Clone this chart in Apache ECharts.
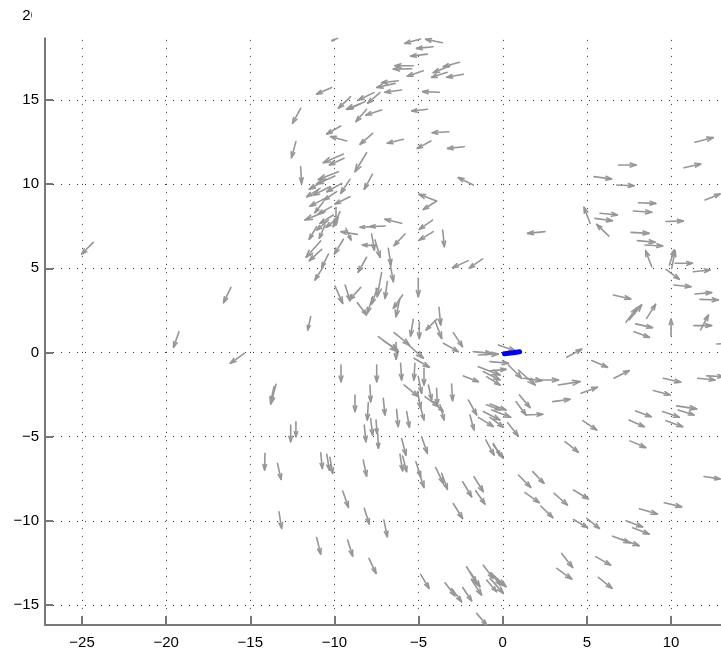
<!DOCTYPE html>
<html>
<head>
<meta charset="utf-8">
<script src="https://cdn.jsdelivr.net/npm/echarts@6/dist/echarts.min.js"></script>
<style>html,body{margin:0;padding:0;background:#fff;}#chart{width:721px;height:652px;}</style>
</head>
<body>
<div id="chart"></div>
<script>
// Tick values
const xTicks = [-25, -20, -15, -10, -5, 0, 5, 10, 15];
const yTicks = [-15, -10, -5, 0, 5, 10, 15, 20];

// Arrows: [x, y, u, v]  (tail position and vector)
const outerLeftArrows = [
  [-24.33, 6.54, -0.69, -0.69], [-16.15, 3.87, -0.44, -0.91], [-19.24, 1.24, -0.32, -0.93],
  [-15.36, -0.05, -0.83, -0.59], [-13.47, -1.89, -0.32, -1.17], [-13.59, -2.03, -0.20, -0.89],
  [-14.13, -5.99, -0.02, -0.99], [-13.39, -6.59, 0.22, -0.95], [-13.30, -9.46, 0.16, -0.99]
];
const upperArcArrows = [
  [-9.81, 18.67, -0.34, -0.14], [-4.88, 18.63, -0.93, -0.26], [-3.59, 18.41, -0.99, 0.20],
  [-4.13, 18.17, -0.99, -0.10], [-4.48, 17.73, -0.99, -0.12], [-2.58, 17.24, -0.95, -0.26],
  [-3.14, 17.04, -0.99, -0.42], [-5.32, 17.04, -1.09, 0.00], [-5.41, 16.86, -1.09, -0.02],
  [-4.72, 16.74, -0.95, -0.32], [-3.30, 16.65, -0.93, -0.30], [-2.34, 16.53, -0.99, -0.18],
  [-6.21, 16.15, -0.99, -0.12], [-6.40, 15.99, -1.09, -0.24], [-6.01, 15.60, -0.99, -0.14],
  [-3.77, 15.46, -0.99, 0.04], [-10.17, 15.75, -0.89, -0.40], [-7.65, 15.44, -0.93, -0.44],
  [-7.30, 15.44, -0.73, -0.63], [-9.04, 15.20, -0.73, -0.69], [-8.19, 14.90, -1.09, -0.44],
  [-8.48, 14.76, -0.75, -0.32], [-7.20, 14.41, -0.93, -0.30], [-8.09, 14.45, -0.63, -0.73],
  [-4.48, 14.45, -0.93, -0.10], [-12.01, 14.51, -0.48, -0.89], [-9.63, 13.46, -0.83, -0.48]
];
const westClusterArrows = [
  [-9.28, 12.57, -0.95, 0.26], [-7.73, 13.02, -0.75, -0.65], [-5.91, 12.67, -0.95, -0.24],
  [-3.20, 13.12, -0.99, -0.06], [-4.27, 12.57, -0.81, -0.44], [-2.29, 12.23, -0.99, -0.10],
  [-12.29, 12.53, -0.26, -0.95], [-9.47, 11.79, -1.19, -0.51], [-9.43, 11.54, -0.87, -0.40],
  [-8.09, 11.87, -0.69, -1.13], [-12.01, 11.04, 0.06, -0.99], [-7.75, 10.59, -0.48, -0.89],
  [-9.08, 10.29, -0.55, -0.83], [-9.08, 9.26, -0.89, -0.44], [-1.75, 9.95, -0.89, 0.44],
  [-3.93, 9.00, -1.05, 0.40], [-3.93, 9.00, -0.79, -0.50], [-6.01, 7.68, -0.99, 0.24],
  [-6.99, 7.52, -0.89, -0.04], [-7.69, 7.48, -0.79, -0.04], [-4.17, 7.87, -0.79, -0.55],
  [-9.77, 10.74, -1.19, -0.46], [-9.97, 10.49, -1.09, -0.48], [-10.56, 10.25, -0.93, -0.55],
  [-9.57, 10.05, -0.89, -0.50], [-10.27, 9.85, -0.99, -0.50], [-9.87, 9.56, -0.75, -0.50],
  [-10.56, 9.16, -0.89, -0.46], [-10.66, 8.96, -0.50, -0.65], [-10.17, 8.67, -0.79, -0.44],
  [-10.56, 8.37, -1.19, -0.50], [-10.07, 8.17, -0.79, -0.50], [-9.77, 8.03, -0.73, -0.59],
  [-9.91, 8.63, 0.00, -1.05], [-9.67, 8.37, -0.40, -0.89], [-10.36, 7.87, -0.69, -0.59],
  [-10.86, 9.75, -0.79, -0.50]
];
const midBandArrows = [
  [-11.06, 7.48, -0.44, -0.75], [-10.56, 7.58, -0.34, -0.79], [-8.64, 7.02, -0.97, 0.16],
  [-9.32, 7.38, 0.30, -0.69], [-9.47, 6.73, -0.53, -0.87], [-10.82, 6.63, -0.87, -0.97],
  [-10.76, 6.13, -0.73, -0.67], [-10.36, 5.85, -0.40, -0.79], [-10.66, 5.10, -0.50, -0.79],
  [-7.49, 6.35, -0.85, 0.04], [-7.79, 7.04, 0.16, -0.95], [-7.59, 6.69, 0.30, -1.03],
  [-5.81, 7.04, -0.65, -0.69], [-4.13, 7.18, -0.83, -0.50], [-3.57, 7.28, 0.10, -0.99],
  [-8.09, 5.66, -0.50, -0.89], [-6.80, 6.19, 0.16, -0.99], [-6.70, 5.30, 0.20, -1.09],
  [-2.05, 5.46, -0.93, -0.42], [-1.20, 5.56, -0.79, -0.55], [-5.02, 4.41, 0.00, -1.09],
  [-9.97, 3.95, 0.46, -1.03], [-9.37, 4.01, 0.30, -0.93], [-8.44, 3.87, -0.67, -0.75],
  [-7.20, 4.75, -0.26, -1.43], [-6.86, 4.21, -0.14, -0.99], [-7.45, 3.81, -0.34, -0.93],
  [-7.73, 3.32, -0.32, -0.99], [-8.64, 2.96, 0.55, -0.73], [-5.95, 3.42, -0.55, -0.79],
  [-6.11, 3.22, -0.24, -1.09], [-3.79, 2.69, 0.10, -1.05], [-11.41, 2.13, -0.18, -0.79],
  [-5.32, 1.97, -0.16, -0.99], [-4.96, 1.83, 0.00, -0.99], [-3.93, 1.97, -0.63, -0.63],
  [-4.03, 1.89, 0.40, -1.05]
];
const southWestArrows = [
  [-7.39, 0.94, 1.19, -0.89], [-7.10, 0.71, 0.85, -0.55], [-6.46, 1.18, 0.91, -0.73],
  [-5.67, 0.51, 0.95, -0.85], [-6.34, 0.59, 0.00, -0.99], [-2.94, 1.18, 0.55, -0.83],
  [-3.53, 0.55, 0.89, -0.50], [-1.75, 0.05, 1.09, -0.10], [-1.45, -0.15, 1.19, 0.06],
  [-5.28, -0.34, 0.91, -0.53], [-9.61, -0.74, 0.00, -0.99], [-7.49, -0.74, 0.00, -0.99],
  [-6.07, -0.64, 0.06, -0.99], [-5.22, -0.64, -0.06, -0.99], [-4.68, -0.94, 0.00, -0.99],
  [-1.45, -0.84, 1.29, -0.50], [-1.16, -1.13, 0.99, -0.50], [-0.96, -1.43, 0.79, -0.50],
  [-2.34, -1.39, 0.89, -0.34], [-7.89, -1.93, 0.04, -0.99], [-8.78, -2.52, 0.00, -0.99],
  [-7.10, -2.72, 0.10, -0.99], [-7.99, -2.98, -0.06, -1.03], [-5.87, -1.93, 0.85, -0.69],
  [-5.02, -1.43, 0.20, -0.99], [-4.42, -1.93, 0.20, -0.89], [-3.93, -2.13, 0.04, -0.99],
  [-3.04, -1.87, 0.06, -0.99], [-4.62, -2.62, 0.79, -0.59], [-4.13, -2.92, 0.59, -0.59],
  [-3.73, -3.11, 0.24, -0.89], [-5.06, -2.32, 0.18, -0.99], [-4.92, -3.11, 0.24, -0.89],
  [-6.31, -3.37, 0.10, -1.03], [-5.71, -3.51, 0.16, -0.93], [-2.05, -2.82, 0.50, -0.89],
  [-1.95, -3.71, 0.24, -0.89], [-0.96, -3.11, 0.79, -0.30], [-1.16, -3.51, 0.99, -0.50],
  [-1.45, -3.85, 0.89, -0.55]
];
const southLowerArrows = [
  [-12.60, -4.31, 0.00, -0.99], [-12.29, -4.11, 0.00, -0.89], [-10.82, -5.96, 0.10, -0.93],
  [-10.46, -6.04, 0.16, -0.95], [-10.27, -6.23, 0.16, -0.95], [-8.23, -4.31, 0.10, -0.99],
  [-7.85, -3.92, 0.12, -0.99], [-7.53, -4.01, 0.06, -0.80], [-7.43, -4.80, 0.04, -0.89],
  [-8.29, -6.39, 0.20, -0.95], [-6.01, -5.11, 0.26, -0.99], [-6.11, -6.04, 0.16, -0.99],
  [-5.95, -6.15, 0.24, -0.93], [-4.82, -5.00, 0.34, -0.99], [-5.16, -6.49, 0.28, -0.89],
  [-5.02, -6.99, 0.34, -1.03], [-3.99, -6.83, 0.46, -0.95], [-3.63, -7.18, 0.34, -0.95],
  [-2.38, -7.68, 0.53, -0.89], [-1.71, -7.38, 0.55, -0.89], [-1.61, -8.21, 0.55, -0.79],
  [-2.94, -8.97, 0.55, -0.89], [-1.00, -5.20, 0.48, -0.89], [-0.56, -5.40, 0.40, -0.70],
  [-9.51, -8.23, 0.34, -0.97], [-8.23, -9.26, 0.30, -0.93], [-7.06, -9.96, 0.20, -0.99],
  [-11.06, -10.99, 0.24, -0.99], [-9.22, -11.14, 0.30, -0.95], [-7.95, -12.23, 0.42, -0.89],
  [-4.88, -13.18, 0.50, -0.83], [-3.43, -13.68, 0.59, -0.77], [-3.04, -14.02, 0.59, -0.79],
  [-2.38, -13.96, 0.53, -0.79], [-2.15, -12.73, 0.59, -0.99], [-1.95, -13.03, 0.59, -0.89],
  [-1.85, -13.52, 0.59, -0.89], [-1.16, -12.63, 0.59, -0.79], [-0.96, -13.52, 0.59, -0.69],
  [-0.66, -13.12, 0.50, -0.69], [-1.55, -15.50, 0.59, -0.69]
];
const eastArrows = [
  [5.42, 10.45, 1.05, -0.14], [6.87, 11.14, 1.05, 0.00], [10.77, 10.98, 0.99, 0.22],
  [11.42, 12.49, 1.09, 0.28], [6.77, 9.95, 1.03, -0.04], [12.02, 9.06, 0.89, 0.36],
  [8.06, 8.90, 1.03, -0.04], [7.76, 8.41, 1.09, -0.08], [5.78, 8.27, 1.03, -0.10],
  [5.48, 7.97, 1.03, -0.14], [5.19, 7.68, -0.36, 0.95], [6.31, 6.92, -0.73, 0.69],
  [9.70, 7.78, 1.03, 0.04], [2.51, 7.18, -1.03, -0.10], [7.62, 7.14, 1.07, -0.06],
  [8.00, 6.65, 1.05, -0.10], [8.45, 6.39, 1.05, -0.06], [8.85, 5.10, -0.36, 0.95],
  [9.90, 5.20, 0.28, 0.89], [10.04, 5.00, 0.20, 1.05], [10.24, 5.30, 1.03, 0.00],
  [11.32, 4.80, 0.99, 0.10], [9.70, 4.94, 0.79, -0.59], [10.17, 4.01, 1.01, -0.10],
  [11.42, 3.48, 0.99, 0.08], [11.72, 3.16, 1.09, -0.04], [6.57, 3.42, 1.03, -0.24],
  [7.32, 1.80, 0.63, 0.83], [7.52, 1.94, 0.73, 0.89], [8.55, 2.03, 0.53, 0.83],
  [7.90, 1.70, 0.99, -0.22], [10.00, 1.00, 0.00, 0.99], [11.76, 1.34, 0.46, 0.89],
  [11.36, 1.60, 1.05, 0.00]
];
const southEastArrows = [
  [-0.26, 0.45, 0.99, -0.34], [-0.755, -0.54, 1.09, -0.10], [-0.755, -1.08, 0.95, 0.08],
  [3.80, -0.28, 0.89, 0.48], [0.33, -0.74, 0.79, -0.79], [0.93, -1.04, 0.99, -0.89],
  [1.23, -1.53, 1.09, -0.14], [2.22, -1.63, 1.09, 0.00], [3.30, -1.93, 1.29, 0.20],
  [5.29, -0.48, 0.93, -0.40], [6.61, -1.53, 0.91, 0.46], [4.65, -2.42, 0.97, 0.36],
  [2.97, -2.92, 1.03, 0.14], [0.99, -2.52, 0.63, -0.75], [0.79, -2.92, 0.59, -0.79],
  [1.38, -3.71, 0.99, 0.04], [0.29, -4.17, 0.63, -0.79], [-0.755, -3.06, 0.95, -0.36],
  [-0.66, -3.41, 1.13, -0.44], [-0.755, -3.85, 0.79, -0.59], [4.75, -4.05, 0.83, -0.55],
  [3.70, -5.29, 0.79, -0.63], [-0.56, -5.49, 0.59, -0.79], [7.56, -5.25, 0.93, -0.40],
  [7.50, -4.01, 0.91, -0.40], [7.90, -3.47, 0.91, -0.34], [8.95, -2.26, 0.99, -0.26],
  [9.54, -1.53, 1.03, -0.24], [11.58, -1.53, 1.03, -0.10], [12.12, -1.39, 0.99, -0.04],
  [9.50, -3.51, 0.99, -0.34], [9.70, -4.05, 0.99, -0.36], [10.33, -3.17, 1.19, -0.18],
  [10.43, -3.41, 0.93, -0.30], [7.80, 1.24, 0.91, -0.34], [11.96, -7.37, 0.95, -0.14],
  [12.71, 0.51, 0.80, 0.04]
];
const bottomEastArrows = [
  [0.93, -7.28, 0.73, -0.73], [1.78, -7.08, 0.67, -0.69], [1.32, -8.33, 0.85, -0.59],
  [3.05, -8.37, 0.79, -0.69], [4.20, -8.17, 0.89, -0.53], [2.26, -9.12, 0.71, -0.69],
  [4.20, -9.92, 0.83, -0.48], [4.99, -9.86, 0.75, -0.59], [8.12, -9.28, 1.07, -0.32],
  [9.60, -8.93, 1.03, -0.24], [7.32, -10.00, 0.99, -0.36], [7.72, -10.41, 0.97, -0.38],
  [6.53, -10.91, 1.03, -0.40], [7.07, -11.10, 1.03, -0.38], [3.50, -11.94, 0.65, -0.83],
  [3.21, -12.83, 0.89, -0.63], [5.52, -12.13, 0.89, -0.50], [5.68, -13.36, 0.81, -0.65],
  [-0.755, -13.09, 0.89, -0.79], [-0.755, -13.42, 0.79, -0.89], [-0.56, -13.22, 0.75, -0.69]
];

// Blue track near the origin
const blueX = [0.1, 0.35, 0.6, 0.8, 1.0];
const blueY = [-0.07, -0.04, -0.01, 0.02, 0.04];

const arrows = [].concat(outerLeftArrows, upperArcArrows, westClusterArrows, midBandArrows,
  southWestArrows, southLowerArrows, eastArrows, southEastArrows, bottomEastArrows);
const blueData = blueX.map((x, i) => [x, blueY[i]]);

const fmt = v => String(v).replace('-', '\u2212');
const axisColor = '#777777';
const font = { color: '#000', fontSize: 15, fontFamily: 'Liberation Sans, Arial, Helvetica, sans-serif' };
const gridDots = { show: true, lineStyle: { type: [1, 7], color: '#333', width: 1 } };

const chart = echarts.init(document.getElementById('chart'), null, { renderer: 'canvas' });
chart.setOption({
  backgroundColor: '#fff',
  animation: false,
  grid: { left: 45, top: 15.9, width: 710.2, height: 609.1, containLabel: false, outerBoundsMode: 'none' },
  xAxis: {
    type: 'value', min: -27.2, max: 15,
    axisLine: { show: true, onZero: false, lineStyle: { color: axisColor, width: 2 } },
    axisTick: { show: true, inside: true, length: 9, customValues: xTicks, lineStyle: { color: axisColor, width: 2 } },
    axisLabel: Object.assign({ customValues: xTicks, margin: 10, formatter: fmt }, font),
    splitLine: gridDots
  },
  yAxis: {
    type: 'value', min: -16.19, max: 20,
    axisLine: { show: true, onZero: false, lineStyle: { color: axisColor, width: 2 } },
    axisTick: { show: true, inside: true, length: 8, customValues: yTicks, lineStyle: { color: axisColor, width: 2 } },
    axisLabel: Object.assign({ customValues: yTicks, margin: 6, formatter: fmt }, font),
    splitLine: gridDots
  },
  series: [
    {
      type: 'custom',
      coordinateSystem: 'cartesian2d',
      clip: true,
      data: arrows,
      dimensions: ['x', 'y', 'u', 'v'],
      encode: { x: 0, y: 1 },
      renderItem: function (params, api) {
        const x = api.value(0), y = api.value(1), u = api.value(2), v = api.value(3);
        const p0 = api.coord([x, y]);
        const p1 = api.coord([x + u, y + v]);
        const dx = p1[0] - p0[0], dy = p1[1] - p0[1];
        const a = 0.33, b = 0.33;
        const h1 = [p1[0] - a * (dx + b * dy), p1[1] - a * (dy - b * dx)];
        const h2 = [p1[0] - a * (dx - b * dy), p1[1] - a * (dy + b * dx)];
        const st = { stroke: '#969696', lineWidth: 1.6, fill: null, lineCap: 'round', lineJoin: 'round' };
        return {
          type: 'group',
          children: [
            { type: 'line', shape: { x1: p0[0], y1: p0[1], x2: p1[0], y2: p1[1] }, style: st },
            { type: 'polyline', shape: { points: [h1, p1, h2] }, style: st }
          ]
        };
      }
    },
    {
      type: 'line',
      data: blueData,
      symbol: 'none',
      lineStyle: { color: '#0000ff', width: 5, cap: 'round', join: 'round' },
      z: 5
    }
  ],
  graphic: [
    { type: 'rect', shape: { x: 32, y: 0, width: 700, height: 37.5 }, style: { fill: '#fff' }, z: 100 }
  ]
});
</script>
</body>
</html>
